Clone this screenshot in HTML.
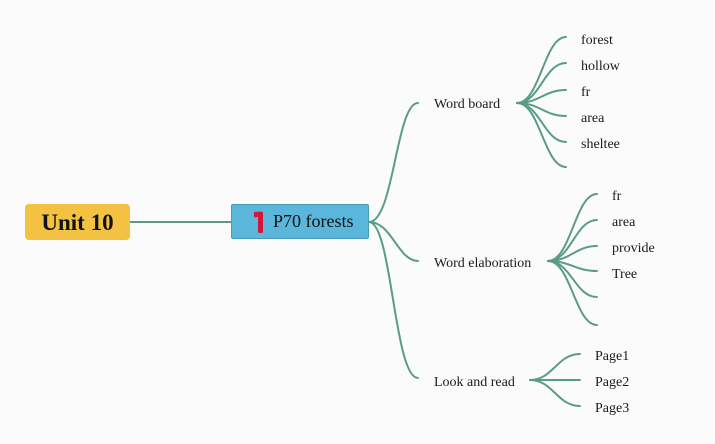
<!DOCTYPE html>
<html>
<head>
<meta charset="utf-8">
<style>
  html, body { margin: 0; padding: 0; }
  body { width: 715px; height: 444px; background: #fbfbfb; position: relative; overflow: hidden; font-family: "Liberation Serif", serif; }
  .t { position: absolute; font-size: 14px; color: #1a1a1a; white-space: nowrap; line-height: 1; }
  #unit { position: absolute; left: 25px; top: 204px; width: 105px; height: 36px; background: #f4c243; border-radius: 4px; }
  #unit span { position: absolute; left: 0; width: 105px; text-align: center; top: 7px; font-weight: bold; font-size: 23px; line-height: 1; color: #111; }
  #main { position: absolute; left: 231px; top: 204px; width: 136px; height: 33px; background: #5bb6dc; border: 1px solid #4a9bb9; border-radius: 2px; }
  #main span { position: absolute; left: 41px; top: 7px; font-size: 18px; line-height: 1; color: #111; }
</style>
</head>
<body>
<svg width="715" height="444" style="position:absolute;left:0;top:0" xmlns="http://www.w3.org/2000/svg">
  <g fill="none" stroke="#5a9c86" stroke-width="2" stroke-linecap="round">
    <line x1="130" y1="222" x2="231" y2="222"/>
    <path d="M369 222 C 394 222, 396 103, 418 103"/>
    <path d="M369 222 C 392 222, 398 261, 418 261"/>
    <path d="M369 222 C 392 222, 394 378, 418 378"/>
    <path d="M517 103 C 540 103, 544 37, 566 37"/>
    <path d="M517 103 C 540 103, 544 63, 566 63"/>
    <path d="M517 103 C 540 103, 544 90, 566 90"/>
    <path d="M517 103 C 540 103, 544 116, 566 116"/>
    <path d="M517 103 C 540 103, 544 142, 566 142"/>
    <path d="M517 103 C 540 103, 544 167, 566 167"/>
    <path d="M548 261 C 571 261, 575 194, 597 194"/>
    <path d="M548 261 C 571 261, 575 220, 597 220"/>
    <path d="M548 261 C 571 261, 575 246, 597 246"/>
    <path d="M548 261 C 571 261, 575 271, 597 271"/>
    <path d="M548 261 C 571 261, 575 297, 597 297"/>
    <path d="M548 261 C 571 261, 575 325, 597 325"/>
    <path d="M530 380 C 553 380, 557 354, 580 354"/>
    <path d="M530 380 L 580 380"/>
    <path d="M530 380 C 553 380, 557 406, 580 406"/>
  </g>
</svg>

<div id="unit"><span>Unit 10</span></div>
<div id="main">
  <svg width="14" height="24" style="position:absolute;left:20px;top:5px" xmlns="http://www.w3.org/2000/svg">
    <path d="M2 2 L9 1.5 Q11 1.5 11 3.5 L11 21.5 Q11 23 9.5 23 L7.5 23 Q6 23 6 21.5 L6 7 L3 7.5 Q2 7.5 2 6.5 Z" fill="#d2163b"/>
  </svg>
  <span>P70 forests</span>
</div>

<div class="t" style="left:434px;top:98px;">Word board</div>
<div class="t" style="left:434px;top:257px;">Word elaboration</div>
<div class="t" style="left:434px;top:376px;">Look and read</div>

<div class="t" style="left:581px;top:34px;">forest</div>
<div class="t" style="left:581px;top:60px;">hollow</div>
<div class="t" style="left:581px;top:86px;">fr</div>
<div class="t" style="left:581px;top:112px;">area</div>
<div class="t" style="left:581px;top:138px;">sheltee</div>

<div class="t" style="left:612px;top:190px;">fr</div>
<div class="t" style="left:612px;top:216px;">area</div>
<div class="t" style="left:612px;top:242px;">provide</div>
<div class="t" style="left:612px;top:268px;">Tree</div>

<div class="t" style="left:595px;top:350px;">Page1</div>
<div class="t" style="left:595px;top:376px;">Page2</div>
<div class="t" style="left:595px;top:402px;">Page3</div>
</body>
</html>
